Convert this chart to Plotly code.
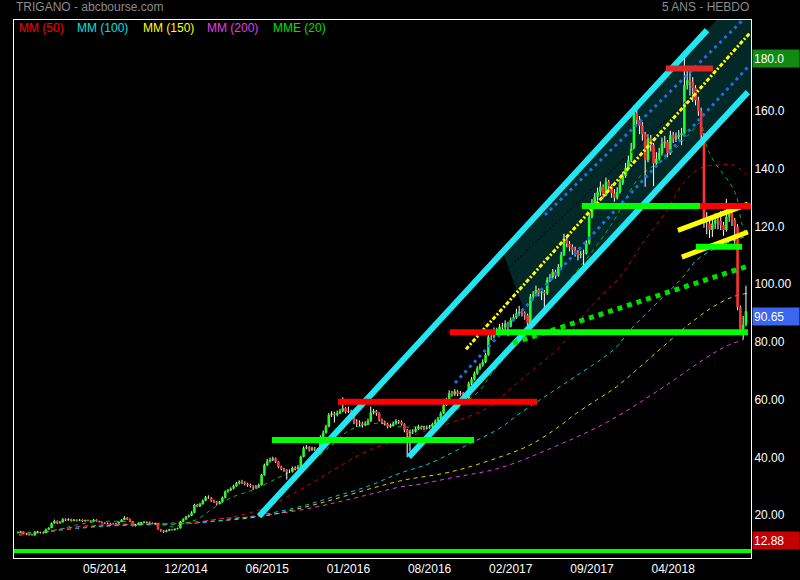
import plotly.graph_objects as go

# ---------------- price data (weekly) ----------------
closes = [
    14.0, 14.2, 13.6, 13.3, 13.0, 12.9, 14.2, 14.0, 13.9, 13.8,
    15.0, 15.5, 17.1, 17.9, 17.2, 17.5, 18.5, 18.2, 18.5, 18.0,
    18.3, 18.1, 18.3, 17.9, 18.2, 18.0, 17.8, 18.3, 17.9, 17.6,
    17.3, 17.1, 17.2, 17.1, 17.0, 17.1, 17.6, 18.3, 19.1, 18.6,
    17.8, 16.2, 16.6, 17.1, 17.3, 17.6, 17.5, 17.3, 17.0, 17.1,
    15.0, 14.6, 14.2, 14.6, 15.0, 14.8, 15.2, 15.4, 17.7, 18.5,
    19.4, 19.8, 20.8, 23.5, 23.0, 23.8, 25.0, 26.1, 26.0, 25.0,
    24.6, 24.0, 24.6, 26.0, 28.1, 28.6, 29.2, 30.0, 31.0, 31.5,
    31.3, 30.8, 30.4, 30.0, 29.6, 29.8, 30.4, 33.9, 37.3, 38.6,
    39.1, 39.6, 38.5, 36.7, 36.0, 35.6, 35.0, 35.0, 36.3, 36.0,
    36.7, 40.2, 43.1, 43.5, 42.6, 43.1, 42.8, 41.9, 47.1, 48.5,
    50.6, 54.7, 55.2, 54.7, 55.3, 56.0, 57.0, 55.8, 56.0, 55.3,
    52.3, 52.0, 51.7, 51.2, 51.7, 52.5, 55.5, 56.0, 55.3, 52.9,
    52.2, 51.7, 50.6, 51.0, 51.7, 52.6, 52.3, 51.5, 49.5, 48.3,
    48.8, 48.9, 49.8, 50.6, 50.2, 50.0, 50.3, 50.6, 51.5, 52.5,
    53.5, 55.3, 58.1, 60.0, 62.2, 61.8, 62.8, 62.0, 62.2, 61.0,
    60.4, 65.6, 67.0, 69.1, 70.8, 71.9, 73.0, 75.5, 81.8, 81.8,
    84.1, 83.5, 85.3, 85.0, 86.4, 85.3, 87.6, 88.5, 89.9, 90.5,
    90.0, 89.3, 86.4, 95.7, 96.5, 98.0, 97.0, 97.4, 96.8, 101.5,
    102.5, 104.3, 103.0, 106.0, 110.1, 115.3, 114.0, 113.0, 111.9, 111.0,
    110.1, 110.5, 110.7, 114.2, 123.4, 128.0, 130.3, 132.0, 133.8, 130.9,
    135.5, 134.0, 131.5, 130.0, 132.0, 135.0, 137.5, 140.2, 143.0, 147.0,
    159.2, 156.9, 155.0, 152.0, 143.0, 150.6, 148.2, 141.9, 143.5, 145.5,
    148.8, 149.4, 145.4, 151.7, 150.5, 151.1, 151.7, 152.3, 169.0, 170.7,
    170.2, 168.0, 163.8, 160.0, 151.7, 121.0, 121.0, 118.8, 121.0, 122.3,
    122.0, 120.5, 118.8, 123.4, 124.5, 122.3, 120.0, 92.0, 84.5, 86.0,
    90.65,
]
opens = [
    13.8, 14.0, 14.2, 13.6, 13.3, 13.0, 12.9, 14.2, 14.0, 13.9,
    13.8, 15.0, 15.5, 17.1, 17.9, 17.2, 17.5, 18.5, 18.2, 18.5,
    18.0, 18.3, 18.1, 18.3, 17.9, 18.2, 18.0, 17.8, 18.3, 17.9,
    17.6, 17.3, 17.1, 17.2, 17.1, 17.0, 17.1, 17.6, 18.3, 19.1,
    18.6, 17.8, 16.2, 16.6, 17.1, 17.3, 17.6, 17.5, 17.3, 17.0,
    17.1, 15.0, 14.6, 14.2, 14.6, 15.0, 14.8, 15.2, 15.4, 17.7,
    18.5, 19.4, 19.8, 20.8, 23.5, 23.0, 23.8, 25.0, 26.1, 26.0,
    25.0, 24.6, 24.0, 24.6, 26.0, 28.1, 28.6, 29.2, 30.0, 31.0,
    31.5, 31.3, 30.8, 30.4, 30.0, 29.6, 29.8, 30.4, 33.9, 37.3,
    38.6, 39.1, 39.6, 38.5, 36.7, 36.0, 35.6, 35.0, 35.0, 36.3,
    36.0, 36.7, 40.2, 43.1, 43.5, 42.6, 43.1, 42.8, 41.9, 47.1,
    48.5, 50.6, 54.7, 55.2, 54.7, 55.3, 56.0, 57.0, 55.8, 56.0,
    55.3, 52.3, 52.0, 51.7, 51.2, 51.7, 52.5, 55.5, 56.0, 55.3,
    52.9, 52.2, 51.7, 50.6, 51.0, 51.7, 52.6, 52.3, 51.5, 49.5,
    48.3, 48.8, 48.9, 49.8, 50.6, 50.2, 50.0, 50.3, 50.6, 51.5,
    52.5, 53.5, 55.3, 58.1, 60.0, 62.2, 61.8, 62.8, 62.0, 62.2,
    61.0, 60.4, 65.6, 67.0, 69.1, 70.8, 71.9, 73.0, 75.5, 81.8,
    81.8, 84.1, 83.5, 85.3, 85.0, 86.4, 85.3, 87.6, 88.5, 89.9,
    90.5, 90.0, 89.3, 86.4, 95.7, 96.5, 98.0, 97.0, 97.4, 96.8,
    101.5, 102.5, 104.3, 103.0, 106.0, 110.1, 115.3, 114.0, 113.0, 111.9,
    111.0, 110.1, 110.5, 110.7, 114.2, 123.4, 128.0, 130.3, 132.0, 133.8,
    130.9, 135.5, 134.0, 131.5, 130.0, 132.0, 135.0, 137.5, 140.2, 143.0,
    147.0, 159.2, 156.9, 155.0, 152.0, 143.0, 150.6, 148.2, 141.9, 143.5,
    145.5, 148.8, 149.4, 145.4, 151.7, 150.5, 151.1, 151.7, 152.3, 169.0,
    170.7, 170.2, 168.0, 163.8, 160.0, 151.7, 121.0, 121.0, 118.8, 121.0,
    122.3, 122.0, 120.5, 118.8, 123.4, 124.5, 122.3, 120.0, 92.0, 84.5,
    86.0,
]
highs = [
    14.3, 14.5, 14.3, 13.8, 13.5, 13.4, 14.4, 14.5, 14.2, 14.1,
    15.3, 15.8, 17.4, 18.4, 18.1, 17.9, 18.9, 18.8, 18.9, 18.7,
    18.6, 18.5, 18.6, 18.5, 18.4, 18.4, 18.2, 18.6, 18.5, 18.0,
    17.7, 17.5, 17.4, 17.3, 17.3, 17.3, 17.8, 18.6, 19.6, 19.3,
    18.8, 17.9, 16.9, 17.3, 17.5, 17.9, 17.8, 17.7, 17.4, 17.3,
    17.2, 15.2, 14.8, 14.9, 15.2, 15.2, 15.4, 15.6, 17.9, 18.9,
    19.7, 20.2, 21.3, 23.9, 23.9, 24.2, 25.4, 26.6, 26.8, 26.2,
    25.3, 24.8, 24.9, 26.4, 28.5, 29.0, 29.6, 30.5, 31.5, 32.0,
    32.2, 31.7, 31.2, 30.9, 30.3, 30.4, 30.9, 34.3, 37.8, 39.5,
    39.9, 40.2, 39.9, 38.7, 37.1, 36.4, 35.9, 35.8, 36.8, 36.9,
    37.3, 40.6, 43.8, 44.2, 43.9, 43.7, 43.6, 43.2, 47.6, 49.3,
    51.3, 55.3, 56.0, 55.8, 56.2, 56.8, 60.8, 57.4, 57.6, 56.5,
    55.6, 53.2, 52.8, 52.3, 52.5, 53.4, 57.6, 56.8, 56.4, 55.6,
    53.4, 52.7, 52.0, 51.7, 52.4, 53.2, 53.0, 52.8, 51.8, 49.9,
    49.6, 49.8, 50.5, 51.3, 51.0, 50.8, 51.0, 51.2, 52.0, 53.1,
    54.0, 55.9, 58.6, 60.6, 63.2, 63.0, 63.6, 63.3, 63.0, 62.6,
    61.5, 66.2, 67.8, 69.8, 71.6, 72.6, 74.0, 76.2, 82.6, 83.3,
    85.0, 84.9, 86.2, 86.6, 87.5, 87.0, 88.5, 89.6, 91.5, 92.5,
    91.4, 90.6, 89.8, 96.6, 97.6, 99.5, 98.6, 98.4, 98.0, 102.4,
    103.6, 105.3, 105.0, 107.0, 111.2, 117.5, 116.8, 115.0, 113.8, 113.0,
    111.8, 111.6, 112.0, 115.2, 124.6, 129.5, 131.6, 133.5, 135.8, 134.6,
    137.0, 136.2, 134.6, 133.0, 133.6, 136.4, 139.0, 142.0, 144.6, 149.0,
    161.0, 160.6, 158.3, 156.2, 152.8, 152.0, 151.8, 149.0, 145.8, 147.3,
    150.8, 151.4, 150.0, 153.2, 152.8, 152.6, 153.4, 154.2, 178.8, 175.6,
    174.3, 171.8, 169.0, 165.0, 161.2, 152.4, 125.0, 122.8, 123.4, 124.6,
    123.8, 125.4, 121.6, 129.6, 126.8, 125.6, 123.0, 120.8, 92.6, 89.0,
    99.5,
]
lows = [
    13.6, 13.8, 13.4, 13.0, 12.9, 12.88, 12.9, 13.8, 13.6, 13.5,
    13.7, 14.9, 15.4, 17.0, 16.9, 17.0, 17.4, 17.9, 18.0, 17.7,
    17.8, 17.8, 17.9, 17.6, 17.7, 17.8, 17.5, 17.7, 17.7, 17.4,
    17.0, 16.9, 16.9, 16.8, 16.7, 16.8, 17.0, 17.5, 18.2, 18.3,
    17.6, 16.0, 16.0, 16.5, 16.9, 17.2, 17.2, 17.1, 16.8, 16.8,
    14.9, 14.2, 13.8, 14.0, 14.4, 14.6, 14.6, 15.0, 15.3, 17.5,
    18.3, 19.1, 19.6, 20.6, 22.7, 22.8, 23.6, 24.8, 25.6, 24.6,
    24.2, 23.3, 23.7, 24.4, 25.8, 27.8, 28.3, 28.9, 29.8, 30.6,
    30.8, 30.3, 29.8, 29.5, 28.7, 29.1, 29.5, 30.2, 33.6, 37.0,
    38.2, 38.7, 38.0, 36.2, 35.5, 35.0, 32.3, 34.5, 34.7, 35.5,
    35.7, 36.5, 40.0, 42.8, 42.0, 42.2, 42.2, 40.6, 41.7, 46.8,
    48.2, 50.4, 54.0, 52.1, 54.2, 55.0, 55.6, 55.2, 55.3, 54.6,
    51.5, 50.5, 50.8, 50.3, 50.8, 51.3, 52.3, 54.9, 54.4, 52.4,
    51.5, 51.0, 50.0, 50.2, 50.7, 51.3, 51.6, 51.0, 48.7, 40.0,
    42.0, 48.1, 48.6, 49.5, 49.6, 49.4, 49.6, 49.9, 50.2, 51.2,
    52.0, 53.2, 55.0, 57.8, 59.7, 61.0, 61.3, 61.2, 61.4, 60.2,
    59.6, 60.1, 65.0, 66.6, 68.6, 70.2, 71.4, 72.6, 75.2, 80.6,
    81.2, 82.4, 83.0, 84.2, 84.3, 82.0, 85.0, 87.0, 88.0, 89.0,
    88.8, 87.7, 85.6, 86.0, 95.0, 95.8, 95.8, 94.5, 90.5, 96.3,
    100.8, 101.9, 101.9, 102.6, 105.6, 109.8, 112.8, 111.4, 110.2, 109.6,
    108.3, 109.0, 105.5, 110.3, 113.8, 122.8, 127.2, 129.0, 130.7, 129.8,
    130.5, 132.5, 130.0, 128.6, 129.4, 131.4, 134.4, 136.9, 139.5, 142.3,
    146.6, 155.4, 152.0, 149.8, 133.8, 142.3, 146.0, 134.0, 140.6, 142.8,
    144.6, 147.2, 144.0, 144.8, 149.0, 149.3, 150.2, 148.2, 151.8, 167.5,
    165.4, 163.2, 162.0, 158.4, 149.6, 119.6, 117.3, 116.0, 116.4, 119.2,
    119.0, 118.8, 116.8, 118.2, 121.6, 120.2, 114.0, 91.0, 82.4, 80.8,
    85.4,
]
weeks = list(range(len(closes)))

# x tick labels (every 29 weeks)
tick_weeks = [31, 60, 89, 118, 147, 176, 205, 234]
tick_labels = ["05/2014", "12/2014", "06/2015", "01/2016",
               "08/2016", "02/2017", "09/2017", "04/2018"]
price_ticks = [20, 40, 60, 80, 100, 120, 140, 160]
price_tick_labels = ["20.00", "40.00", "60.00", "80.00", "100.00", "120.0", "140.0", "160.0"]

# ---------------- moving averages (week, value) ----------------
mm50_w = [0.4, 15, 29.3, 47.1, 60.5, 68.8, 76.8, 87.6, 100.7, 112.6, 119.8, 126.9, 134, 141.1,
          154.3, 167.4, 176.8, 185.3, 193.6, 200.7, 207.9, 215, 223.2, 231.7, 237.6, 243.6,
          249.5, 255.5, 260.3]
mm50_v = [13.1, 14.8, 16.5, 17.2, 17.1, 18.3, 19.4, 22.3, 28.7, 35.6, 39.7, 43.1, 45.4, 47.7,
          51.9, 57.0, 64.5, 71.4, 78.3, 87.6, 95.6, 102.6, 114.3, 125.7, 135.0, 140.2,
          141.3, 141.3, 137.9]
mm100_w = [0.4, 29.3, 65, 86.4, 100.7, 112.6, 124.5, 136.4, 147.1, 159.6, 172.1, 179.3, 186.4,
           193.6, 200.7, 207.9, 213.8, 218.6, 225.7, 231.7, 237.6, 242.4, 250.7, 260.3]
mm100_v = [13.0, 16.0, 17.3, 20.0, 22.9, 26.3, 29.8, 34.5, 37.9, 43.9, 50.1, 55.3, 59.9,
           64.5, 69.1, 73.7, 78.3, 84.1, 91.1, 96.8, 102.6, 108.4, 113.2, 116.7]
mm150_w = [0.4, 29.3, 47, 82.9, 100.7, 136.4, 154.3, 172.1, 182.9, 192.4, 199.5, 206.7, 213.8,
           222.1, 231.7, 240, 248.3, 255.5, 260.3]
mm150_v = [13.3, 16.2, 16.8, 19.0, 22.3, 31.8, 34.9, 40.1, 44.3, 50.1, 55.3, 59.9, 64.5,
           71.3, 79.5, 86.4, 92.2, 95.7, 96.8]
mm200_w = [9.6, 17.5, 29.3, 46.1, 62.9, 71, 84, 100.7, 112.5, 124.5, 136.4, 143.6, 154.3,
           172, 190, 210, 230, 245, 252.5, 258.9]
mm200_v = [14.1, 15.5, 16.5, 16.9, 17.2, 18.6, 19.4, 21.7, 24.1, 26.9, 29.7, 30.7, 32.8,
           36.3, 43.0, 52.0, 64.0, 74.0, 78.3, 80.7]
mme20_w = [0.4, 11.7, 14.6, 20.6, 28.3, 39, 47.4, 51, 55.7, 59.3, 64, 69.6, 76.8, 83.9, 92.4,
           97.1, 105.5, 111.4, 118.6, 128.1, 136.4, 142.4, 150.7, 157.9, 165, 169.2, 177.5,
           187.6, 196, 205.5, 212.6, 222.1, 231.7, 240, 243.6, 246, 248.3, 250.7, 254.3,
           256.7, 258.5, 260.3]
mme20_v = [14.1, 14.2, 15.0, 16.5, 17.7, 17.7, 17.1, 16.8, 15.9, 17.1, 18.5, 22.3, 26.3, 28.7,
           32.7, 35.0, 39.1, 43.7, 49.5, 51.8, 50.6, 50.6, 51.9, 57.5, 63.3, 69.1, 78.9,
           89.9, 100.3, 111.9, 121.7, 137.3, 144.2, 152.3, 155.8, 147.7, 143.0, 139.7, 135.0,
           130.3, 121.1, 117.0]

# ---------------- drawn trend lines (week, price) ----------------
chan_upper_w, chan_upper_v = [86.1, 246.1], [19.6, 188.1]
chan_lower_w, chan_lower_v = [139.6, 260.7], [40.1, 166.6]
chan_mid_w, chan_mid_v = [160.0, 261.4], [77.5, 187.1]
blue_up_w, blue_up_v = [188.2, 258.9], [124.0, 191.6]
blue_lo_w, blue_lo_v = [156.1, 260.7], [65.8, 175.3]
dark_w, dark_v = [173.2, 257.9], [103.9, 181.2]
shade_w = [173.2, 249.5, 263.0, 263.0, 182.9]
shade_v = [110.8, 191.6, 191.6, 167.8, 85.5]
green_trend_w, green_trend_v = [176.8, 260.7], [79.6, 106.3]
wedge_up_w, wedge_up_v = [235.7, 260.7], [118.7, 127.8]
wedge_lo_w, wedge_lo_v = [237.1, 260.7], [109.4, 118.1]

# horizontal levels: (start week, end week, price, colour)
levels = [
    (154.3, 170.7, 83.4, "#ff0000"),
    (170.7, 260.7, 83.4, "#00ff00"),
    (201.4, 243.6, 127.1, "#00ff00"),
    (243.6, 263.0, 127.1, "#ff0000"),
    (231.4, 248.2, 174.8, "#e02828"),
    (242.1, 258.6, 113.0, "#00ff00"),
    (114.3, 185.4, 59.3, "#ff0000"),
    (90.7, 162.9, 46.0, "#00ff00"),
]
floor_level = 7.5

last_price = 90.65
max_price = 180.0
min_price = 12.88

fig = go.Figure()

# channel shading
fig.add_trace(go.Scatter(x=shade_w, y=shade_v, fill="toself", fillcolor="#032828",
                         line=dict(width=0), mode="lines", hoverinfo="skip"))

# moving averages
def ma(w, v, color):
    fig.add_trace(go.Scatter(x=w, y=v, mode="lines",
                             line=dict(color=color, width=1, dash="4px,4px"),
                             line_shape="spline", hoverinfo="skip"))

ma(mm200_w, mm200_v, "#e040e0")
ma(mm150_w, mm150_v, "#d8d800")
ma(mm100_w, mm100_v, "#00c8d8")
ma(mm50_w, mm50_v, "#d00000")
ma(mme20_w, mme20_v, "#00c000")

# candles: wicks then bodies (all in the scatter layer so they sit above the shading)
wick_x, wick_y = [], []
up_x, up_y, dn_x, dn_y = [], [], [], []
for w, o, h, l, c in zip(weeks, opens, highs, lows, closes):
    wick_x += [w, w, None]
    wick_y += [l, h, None]
    if c >= o:
        up_x += [w, w, None]
        up_y += [o, c, None]
    else:
        dn_x += [w, w, None]
        dn_y += [o, c, None]
fig.add_trace(go.Scatter(x=wick_x, y=wick_y, mode="lines",
                         line=dict(color="#ffffff", width=1), hoverinfo="skip"))
fig.add_trace(go.Scatter(x=up_x, y=up_y, mode="lines",
                         line=dict(color="#22ff22", width=2.6), hoverinfo="skip"))
fig.add_trace(go.Scatter(x=dn_x, y=dn_y, mode="lines",
                         line=dict(color="#ff3333", width=2.6), hoverinfo="skip"))

# channel lines
fig.add_trace(go.Scatter(x=dark_w, y=dark_v, mode="lines",
                         line=dict(color="#000000", width=1, dash="2px,2px")))
fig.add_trace(go.Scatter(x=blue_up_w, y=blue_up_v, mode="lines",
                         line=dict(color="#1f6fe0", width=3, dash="3px,4px")))
fig.add_trace(go.Scatter(x=blue_lo_w, y=blue_lo_v, mode="lines",
                         line=dict(color="#1f6fe0", width=3, dash="3px,4px")))
fig.add_trace(go.Scatter(x=chan_mid_w, y=chan_mid_v, mode="lines",
                         line=dict(color="#ffff00", width=3, dash="4px,2px,2px,2px")))
for w, v in [(chan_upper_w, chan_upper_v), (chan_lower_w, chan_lower_v)]:
    fig.add_trace(go.Scatter(x=w, y=v, mode="lines", line=dict(color="#22e6f2", width=6)))

fig.add_trace(go.Scatter(x=green_trend_w, y=green_trend_v, mode="lines",
                         line=dict(color="#00e000", width=5, dash="5px,5px")))
for w, v in [(wedge_up_w, wedge_up_v), (wedge_lo_w, wedge_lo_v)]:
    fig.add_trace(go.Scatter(x=w, y=v, mode="lines", line=dict(color="#ffff00", width=5)))

for x0, x1, lv, col in levels:
    fig.add_trace(go.Scatter(x=[x0, x1], y=[lv, lv], mode="lines",
                             line=dict(color=col, width=6)))
fig.add_trace(go.Scatter(x=[-3, 265], y=[floor_level, floor_level], mode="lines",
                         line=dict(color="#00ff00", width=4)))

FONT = "Liberation Sans, Arial, sans-serif"
ann = []
ann.append(dict(text="TRIGANO - abcbourse.com", xref="paper", yref="paper", x=0, y=1,
                xanchor="left", yanchor="bottom", yshift=4, showarrow=False,
                font=dict(family=FONT, size=12, color="#8c8c8c")))
ann.append(dict(text="5 ANS - HEBDO", xref="paper", yref="paper", x=1, y=1,
                xanchor="right", yanchor="bottom", yshift=4, showarrow=False,
                font=dict(family=FONT, size=12, color="#8c8c8c")))
legend_items = [("MM (50)", "#ff0000", 3), ("MM (100)", "#00e0e0", 61),
                ("MM (150)", "#ffff00", 127), ("MM (200)", "#e040e0", 191),
                ("MME (20)", "#00e000", 257)]
for txt, col, dx in legend_items:
    ann.append(dict(text=txt, xref="paper", yref="paper", x=0, y=1, xanchor="left",
                    yanchor="middle", xshift=dx, yshift=-8, showarrow=False,
                    font=dict(family=FONT, size=12, color=col)))
for val, txt, bg in [(max_price, "180.0", "#118a11"), (last_price, "90.65", "#3a66f0"),
                     (min_price, "12.88", "#c40000")]:
    ann.append(dict(text=txt, xref="paper", yref="y", x=1, y=val, xanchor="left",
                    yanchor="middle", xshift=1, yshift=-5, showarrow=False, align="left",
                    width=44, height=15, bgcolor=bg, borderpad=1,
                    font=dict(family=FONT, size=12, color="#ffffff")))

fig.update_layout(
    width=800, height=580, margin=dict(l=14, r=49, t=20, b=22, autoexpand=False),
    paper_bgcolor="#000000", plot_bgcolor="#000000", showlegend=False,
    annotations=ann, hovermode=False,
    xaxis=dict(range=[-1.43, 261.8], tickvals=tick_weeks, ticktext=tick_labels,
               showgrid=False, zeroline=False, showline=True, linecolor="#ffffff",
               linewidth=1, mirror=True, ticks="",
               tickfont=dict(family=FONT, size=12, color="#ffffff")),
    yaxis=dict(range=[5.1, 191.6], side="right", tickvals=price_ticks,
               ticktext=price_tick_labels, showgrid=False, zeroline=False,
               showline=True, linecolor="#ffffff", linewidth=1, mirror=True, ticks="",
               tickfont=dict(family=FONT, size=12, color="#ffffff")),
)

fig.write_html("out.html",
               config={"displayModeBar": False, "staticPlot": True},
               post_script="document.body.style.margin='0';"
                           "document.body.style.background='#000';"
                           "document.body.style.overflow='hidden';")
